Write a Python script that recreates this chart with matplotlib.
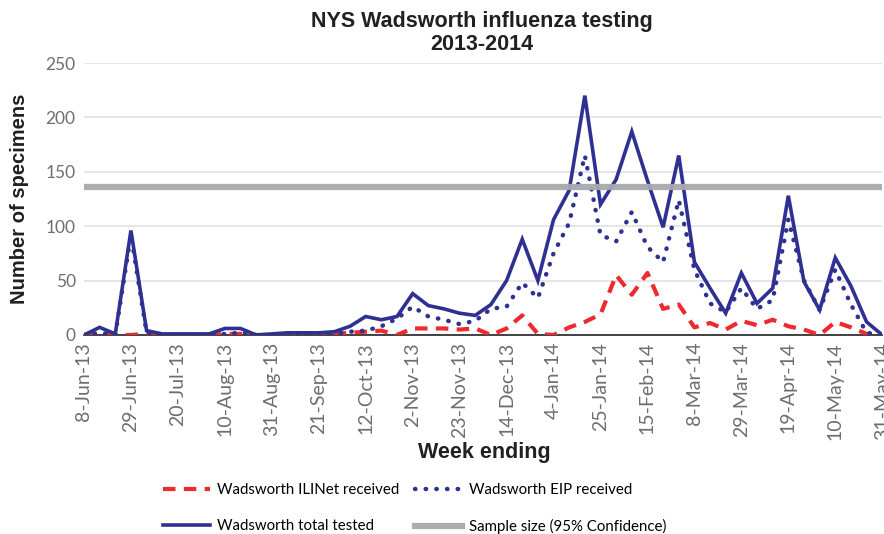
import matplotlib
matplotlib.use("Agg")
import matplotlib.pyplot as plt

weeks = ["8-Jun-13", "15-Jun-13", "22-Jun-13", "29-Jun-13", "6-Jul-13", "13-Jul-13",
         "20-Jul-13", "27-Jul-13", "3-Aug-13", "10-Aug-13", "17-Aug-13", "24-Aug-13",
         "31-Aug-13", "7-Sep-13", "14-Sep-13", "21-Sep-13", "28-Sep-13", "5-Oct-13",
         "12-Oct-13", "19-Oct-13", "26-Oct-13", "2-Nov-13", "9-Nov-13", "16-Nov-13",
         "23-Nov-13", "30-Nov-13", "7-Dec-13", "14-Dec-13", "21-Dec-13", "28-Dec-13",
         "4-Jan-14", "11-Jan-14", "18-Jan-14", "25-Jan-14", "1-Feb-14", "8-Feb-14",
         "15-Feb-14", "22-Feb-14", "1-Mar-14", "8-Mar-14", "15-Mar-14", "22-Mar-14",
         "29-Mar-14", "5-Apr-14", "12-Apr-14", "19-Apr-14", "26-Apr-14", "3-May-14",
         "10-May-14", "17-May-14", "24-May-14", "31-May-14"]

ilinet = [0, 1, 0, 0, 1, 0, 0, 0, 0, 1, 1, 0, 0, 0, 0, 0, 1, 2,
          3, 4, 0, 6, 6, 6, 5, 6, 0, 6, 18, 1, 0, 7, 12, 19,
          55, 37, 57, 24, 28, 7, 11, 5, 13, 9, 14, 8, 5, 0,
          12, 7, 1, 0]

eip = [0, 2, 0, 92, 2, 0, 0, 0, 0, 1, 2, 0, 0, 0, 0, 0, 1, 3,
       4, 8, 15, 26, 17, 14, 10, 13, 24, 26, 48, 34, 75, 103, 165, 92,
       86, 113, 81, 67, 124, 60, 29, 21, 43, 24, 32, 106, 50, 23,
       60, 28, 2, 0]

total = [0, 7, 1, 96, 4, 1, 1, 1, 1, 6, 6, 0, 1, 2, 2, 2, 3, 8,
         17, 14, 17, 38, 27, 24, 20, 18, 28, 50, 88, 50, 106, 133, 220, 120,
         143, 187, 142, 99, 165, 67, 43, 20, 57, 29, 43, 128, 49, 23,
         71, 45, 12, 0]

sample_size = 136

navy = "#2E3192"
red = "#EE2A2F"
grey = "#A7A9AC"
tick_grey = "#6D6E71"

fig = plt.figure(figsize=(8.84, 5.34), dpi=100)
ax = fig.add_axes([0.095, 0.3727, 0.903, 0.5093])

x = list(range(len(weeks)))

l_ili, = ax.plot(x, ilinet, color=red, lw=3, linestyle=(0, (3, 2)),
                 dash_capstyle="butt", label="Wadsworth ILINet received", zorder=3)
l_eip, = ax.plot(x, eip, color=navy, lw=3.2, linestyle=(0, (0.1, 2.3)),
                 dash_capstyle="round", label="Wadsworth EIP received", zorder=4)
l_tot, = ax.plot(x, total, color=navy, lw=2.6, solid_joinstyle="miter",
                 label="Wadsworth total tested", zorder=5)
l_ss = ax.axhline(sample_size, color=grey, lw=4.5, alpha=0.95,
                  label="Sample size (95% Confidence)", zorder=6)

ax.set_xlim(0, len(weeks) - 1)
ax.set_ylim(0, 250)
ax.set_yticks(range(0, 251, 50))
ax.set_xticks(x)
ax.set_xticklabels([w if i % 3 == 0 else "" for i, w in enumerate(weeks)],
                   rotation=90, fontsize=14, color=tick_grey, family="Lato")
ax.tick_params(axis="x", length=0, pad=5)
ax.tick_params(axis="y", length=0, labelsize=12.5, labelcolor=tick_grey, pad=6)
for lab in ax.get_yticklabels():
    lab.set_family("Lato")

ax.grid(axis="y", color="#E1E1E3", lw=1.2)
ax.set_axisbelow(True)
for s in ["top", "right", "left"]:
    ax.spines[s].set_visible(False)
ax.spines["bottom"].set_color("#222222")
ax.spines["bottom"].set_linewidth(1.2)
ax.spines["bottom"].set_zorder(2)

fig.text(0.545, 0.98, "NYS Wadsworth influenza testing\n2013-2014", ha="center",
         va="top", fontsize=15.5, fontweight="bold", family="Liberation Sans",
         color="#231F20", linespacing=1.15)
ax.set_ylabel("Number of specimens", fontsize=14.5, fontweight="bold",
              family="Liberation Sans", color="#231F20", labelpad=12)
fig.text(0.548, 0.153, "Week ending", ha="center", va="center", fontsize=15.5,
         fontweight="bold", family="Liberation Sans", color="#231F20")

fig.legend(handles=[l_ili, l_tot, l_eip, l_ss], ncol=2, frameon=False,
           loc="upper left", bbox_to_anchor=(0.184, 0.095), borderaxespad=0,
           borderpad=0, handlelength=3.15, handletextpad=0.5, columnspacing=1.0,
           labelspacing=1.45, prop={"family": "Lato", "size": 10.8})

fig.savefig("out.png", dpi=100)
